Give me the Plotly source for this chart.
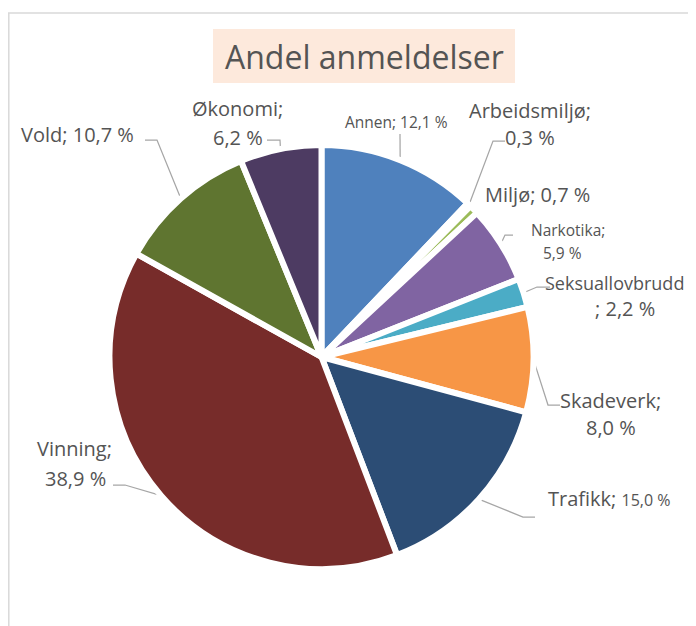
import math
import plotly.graph_objects as go

# ---- data ----
categories = ["Annen", "Arbeidsmiljø", "Miljø", "Narkotika", "Seksuallovbrudd",
              "Skadeverk", "Trafikk", "Vinning", "Vold", "Økonomi"]
values = [12.1, 0.3, 0.7, 5.9, 2.2, 8.0, 15.0, 38.9, 10.7, 6.2]
colors = ["#4F81BD", "#C0504D", "#9BBB59", "#8064A2", "#4BACC6",
          "#F79646", "#2C4D75", "#772C2A", "#5F7530", "#4D3B62"]
title_text = "Andel anmeldelser"

# page body has an 8px margin: the figure spans window pixels 8..696 / 8..626
OFF = 8
WIN_W, WIN_H = 696, 626
W, H = WIN_W - OFF, WIN_H - OFF
CX, CY, R = 321.5, 357.0, 212.0  # pie centre / radius in window pixels
TXT = "#545454"
FONT = "Open Sans"
BIG, SMALL = 20, 15.5


def pct(v):
    return f"{v:.1f}".replace(".", ",") + " %"


# label layout in window pixels: lines (text, x, y, size, anchor), leader start points
label_layout = {
    "Annen": dict(lines=[("{n}; {p}", 396.5, 122, SMALL, "center")], lead=[(400, 134)]),
    "Arbeidsmiljø": dict(lines=[("{n};", 530, 110, BIG, "center"), ("{p}", 530, 137, BIG, "center")],
                         lead=[(505, 141), (493, 141)]),
    "Miljø": dict(lines=[("{n}; {p}", 537.5, 194, BIG, "center")], lead=[]),
    "Narkotika": dict(lines=[("{n};", 567.5, 230, SMALL, "center"), ("{p}", 562.5, 253, SMALL, "center")],
                      lead=[(513, 235), (505, 235)]),
    "Seksuallovbrudd": dict(lines=[("{n}", 686, 283, 18, "right"), ("; {p}", 625, 308, BIG, "center")],
                            lead=[(550, 287), (537, 287)]),
    "Skadeverk": dict(lines=[("{n};", 610, 400, BIG, "center"), ("{p}", 611, 427, BIG, "center")],
                      lead=[(560, 405), (548, 405)]),
    "Trafikk": dict(lines=[("{n}; <span style='font-size:16px'>{p}</span>", 609.5, 498, BIG, "center")],
                    lead=[(535, 517), (523, 517)]),
    "Vinning": dict(lines=[("{n};", 74.5, 448, BIG, "center"), ("{p}", 75, 478, BIG, "center")],
                    lead=[(113, 485), (125, 485)]),
    "Vold": dict(lines=[("{n}; {p}", 77.5, 134, BIG, "center")], lead=[(145, 140), (157, 140)]),
    "Økonomi": dict(lines=[("{n};", 237.5, 108, BIG, "center"), ("{p}", 237.5, 137, BIG, "center")],
                    lead=[(267, 140), (280, 140)]),
}

fig = go.Figure()

fig.add_trace(go.Pie(
    labels=categories, values=values, sort=False, direction="clockwise", rotation=0,
    marker=dict(colors=colors, line=dict(color="white", width=6)),
    textinfo="none", hoverinfo="label+percent", showlegend=False,
    domain=dict(x=[(CX - R - OFF) / W, (CX + R - OFF) / W],
                y=[(WIN_H - CY - R) / H, (WIN_H - CY + R) / H]),
))

# leader lines (pie end point computed from the slice mid-angle)
total = sum(values)
cum = 0.0
annotations = []
for cat, v in zip(categories, values):
    mid = (cum + v / 2) / total * 2 * math.pi
    cum += v
    px = CX + R * math.sin(mid)
    py = CY - R * math.cos(mid)
    lay = label_layout[cat]
    if lay["lead"]:
        pts = lay["lead"] + [(px, py)]
        fig.add_trace(go.Scatter(
            x=[p[0] for p in pts], y=[p[1] for p in pts], mode="lines",
            line=dict(color="#A6A6A6", width=1.25), hoverinfo="skip", showlegend=False))
    for t, x, y, s, anc in lay["lines"]:
        annotations.append(dict(
            text=t.format(n=cat, p=pct(v)), x=x, y=y, xref="x", yref="y",
            showarrow=False, xanchor=anc, yanchor="middle",
            font=dict(family=FONT, size=s, color=TXT)))

annotations.append(dict(
    text=title_text, x=364, y=56, xref="x", yref="y", showarrow=False,
    xanchor="center", yanchor="middle", font=dict(family=FONT, size=32, color=TXT)))

shapes = [
    dict(type="rect", x0=213, x1=515, y0=29, y1=83, xref="x", yref="y",
         fillcolor="#FDE9DC", line=dict(width=0), layer="below"),
    dict(type="line", x0=8.8, x1=8.8, y0=13, y1=WIN_H + 5, xref="x", yref="y",
         line=dict(color="#D9D9D9", width=1.5)),
    dict(type="line", x0=8, x1=WIN_W + 5, y0=13, y1=13, xref="x", yref="y",
         line=dict(color="#D9D9D9", width=1.5)),
]

fig.update_layout(
    width=W, height=H, margin=dict(l=0, r=0, t=0, b=0),
    paper_bgcolor="white", plot_bgcolor="rgba(0,0,0,0)",
    xaxis=dict(range=[OFF, WIN_W], visible=False, fixedrange=True, domain=[0, 1]),
    yaxis=dict(range=[WIN_H, OFF], visible=False, fixedrange=True, domain=[0, 1]),
    annotations=annotations, shapes=shapes, showlegend=False,
)

fig.write_html("out.html")
